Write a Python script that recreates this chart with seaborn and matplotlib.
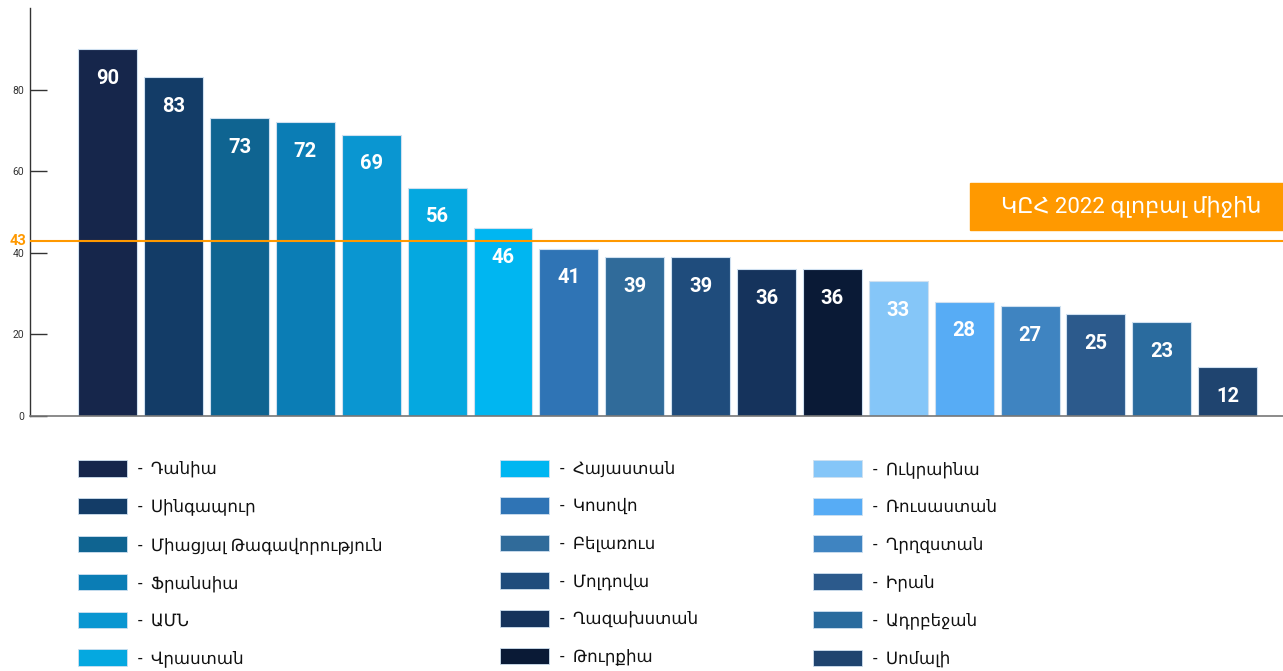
import matplotlib
matplotlib.use('Agg')
import matplotlib.pyplot as plt
import matplotlib.transforms as mtransforms
from matplotlib.patches import Patch, Rectangle
import seaborn as sns

sns.set_style('white')
plt.rcParams['font.family'] = ['Roboto', 'DejaVu Sans']

# Data
countries = ['Դանիա', 'Սինգապուր', 'Միացյալ Թագավորություն', 'Ֆրանսիա', 'ԱՄՆ', 'Վրաստան',
             'Հայաստան', 'Կոսովո', 'Բելառուս', 'Մոլդովա', 'Ղազախստան', 'Թուրքիա',
             'Ուկրաինա', 'Ռուսաստան', 'Ղրղզստան', 'Իրան', 'Ադրբեջան', 'Սոմալի']
scores = [90, 83, 73, 72, 69, 56, 46, 41, 39, 39, 36, 36, 33, 28, 27, 25, 23, 12]
colors = ['#16264b', '#133c67', '#0f6491', '#0b7db5', '#0a96d1', '#05a8e0',
          '#00b6f1', '#2f74b5', '#306b9a', '#1f4c7c', '#15335c', '#0a1a36',
          '#85c6f8', '#57acf5', '#3f84c1', '#2c5a8c', '#2a6b9e', '#1f446f']
global_avg = 43
avg_label = 'ԿԸՀ 2022 գլոբալ միջին'
yticks = [0, 20, 40, 60, 80]

orange = '#ff9900'

fig = plt.figure(figsize=(12.83, 6.71), dpi=100)
ax = fig.add_axes([0.0234, 0.380, 0.9766, 0.608])

sns.barplot(x=countries, y=scores, hue=countries, palette=dict(zip(countries, colors)),
            legend=False, saturation=1, width=0.895, edgecolor='#cfe0f0', linewidth=0.8, ax=ax)

ax.set_xlim(-1.18, 17.84)
ax.set_ylim(0, 100)
ax.set_xticks([])
ax.set_yticks(yticks)
ax.tick_params(axis='y', direction='in', length=12, width=1, colors='#333333',
               labelsize=7.5, pad=4, left=True)
ax.set_xlabel('')
ax.set_ylabel('')
for s in ['top', 'right']:
    ax.spines[s].set_visible(False)
ax.spines['left'].set_color('#333333')
ax.spines['bottom'].set_color('#777777')
ax.spines['left'].set_linewidth(1)
ax.spines['bottom'].set_linewidth(1.2)

# value labels
for i, v in enumerate(scores):
    ax.annotate(str(v), xy=(i, v), xytext=(0, -21), textcoords='offset points',
                ha='center', va='center', color='white', fontsize=14.5, fontweight='bold')

# global average line
ax.axhline(global_avg, color=orange, linewidth=1.5, zorder=5)
blend = mtransforms.blended_transform_factory(ax.transAxes, ax.transData)
ax.text(-0.003, global_avg, str(global_avg), transform=blend, ha='right', va='center',
        color=orange, fontsize=10.5, fontweight='bold')
ax.add_patch(Rectangle((0.750, 45.5), 0.25, 11.7, transform=blend, color=orange,
                       clip_on=False, zorder=6))
ax.text(0.879, 51.3, avg_label, transform=blend, ha='center', va='center',
        color='white', fontsize=16, zorder=7)

# legend in three columns
fs = 12
col_x = [78, 500, 813]
for c in range(3):
    idx = range(c * 6, c * 6 + 6)
    handles = [Patch(facecolor=colors[i], edgecolor='#cfe0f0', linewidth=0.6) for i in idx]
    labels = ['-  ' + countries[i] for i in idx]
    leg = fig.legend(handles, labels, loc='upper left',
                     bbox_to_anchor=(col_x[c] / 1283, 1 - 460 / 671),
                     frameon=False, fontsize=fs, borderpad=0, borderaxespad=0,
                     handlelength=2.94, handleheight=1.15, handletextpad=0.66,
                     labelspacing=1.22)
    for t in leg.get_texts():
        t.set_color('#111111')

fig.savefig('out.png', dpi=100)
